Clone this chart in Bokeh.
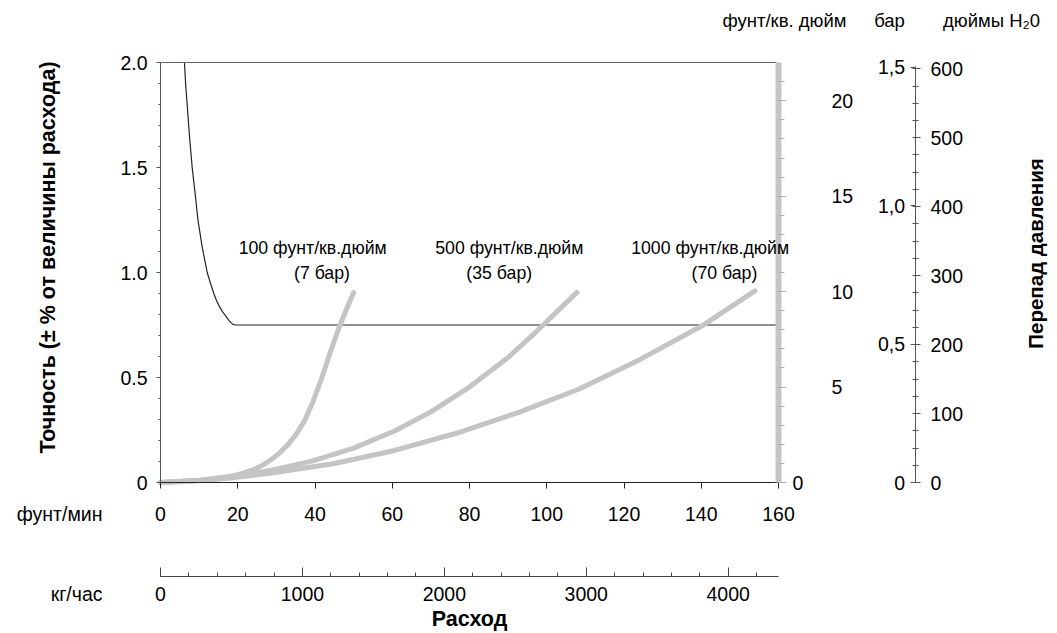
import numpy as np
from bokeh.plotting import figure
from bokeh.models import Range1d, LinearAxis, FixedTicker, Label
from bokeh.embed import file_html
from bokeh.resources import INLINE

# ---------------- data ----------------
flow_ticks = [0, 20, 40, 60, 80, 100, 120, 140, 160]          # lb/min
kg_ticks = [0, 1000, 2000, 3000, 4000]                          # kg/h
kg_minor = [0, 200, 400, 600, 800, 1000, 1200, 1400, 1600, 1800, 2000, 2200,
            2400, 2600, 2800, 3000, 3200, 3400, 3600, 3800, 4000, 4200]
acc_ticks = [0, 0.5, 1.0, 1.5, 2.0]
acc_labels = ["0", "0.5", "1.0", "1.5", "2.0"]
acc_minor = [0, 0.1, 0.2, 0.3, 0.4, 0.5, 0.6, 0.7, 0.8, 0.9, 1.0, 1.1, 1.2, 1.3,
             1.4, 1.5, 1.6, 1.7, 1.8, 1.9, 2.0]
psi_ticks = [0, 5, 10, 15, 20]
psi_labels = ["", "5", "10", "15", "20"]
psi_minor = list(range(0, 22))
h2o_ticks = [0, 100, 200, 300, 400, 500, 600]
h2o_minor = list(range(0, 625, 25))
bar_ticks = [0, 0.5, 1.0, 1.5]
bar_labels = ["0", "0,5", "1,0", "1,5"]

# accuracy curve (% of flow) vs flow (lb/min)
acc_x = [6.2, 6.5, 6.9, 7.5, 8.2, 9.0, 9.7, 10.8, 12.1, 13.0, 13.8, 14.5, 15.2,
         16.0, 16.6, 17.2, 17.8, 18.3, 18.7, 19.2, 160]
acc_y = [2.0, 1.9, 1.8, 1.65, 1.5, 1.37, 1.25, 1.12, 1.0, 0.945, 0.9, 0.867, 0.84,
         0.815, 0.8, 0.785, 0.77, 0.76, 0.754, 0.75, 0.75]

# pressure drop curves (psi) vs flow (lb/min)
p100_x = [0, 5, 10, 14, 17, 19.8, 22, 24.6, 26.8, 28.8, 31, 33.1, 35.2, 37.3,
          39.5, 41.8, 44, 46.3, 48.2, 50.0]
p100_y = [0.0, 0.04, 0.10, 0.17, 0.27, 0.40, 0.53, 0.72, 0.95, 1.22, 1.58, 2.01,
          2.55, 3.23, 4.25, 5.50, 6.85, 8.15, 9.10, 9.95]
p500_x = [0, 10, 19.8, 28.8, 39.4, 50.0, 60.6, 70, 80, 90, 97.8, 107.8]
p500_y = [0.0, 0.12, 0.35, 0.64, 1.13, 1.80, 2.70, 3.70, 5.00, 6.55, 8.00, 9.96]
p1000_x = [0, 10, 18.2, 28.8, 44.7, 60.6, 76.6, 92.4, 108.4, 124.2, 140.2, 153.9]
p1000_y = [0.0, 0.10, 0.23, 0.50, 0.98, 1.68, 2.58, 3.65, 4.90, 6.45, 8.21, 10.04]

curve_labels = [("100 фунт/кв.дюйм", 39.4, 1.115), ("(7 бар)", 41.8, 1.0),
                ("500 фунт/кв.дюйм", 90.3, 1.115), ("(35 бар)", 87.7, 1.0),
                ("1000 фунт/кв.дюйм", 142.3, 1.115), ("(70 бар)", 146.0, 1.0)]

# unit conversions
H2O_PER_PSI = 27.68
H2O_PER_BAR = 401.46
H2O_TOP = 609.1                 # inH2O at top of the plot box (accuracy 2.0)
KG_MAX = 160 * 0.45359 * 60     # kg/h at 160 lb/min

FONT = "Liberation Sans"
TICK_FS = "19.5px"
TXT_FS = "17.7px"
UNIT_FS = "18.5px"
TITLE_FS = "21.5px"
TITLE_R_FS = "20.5px"

# ---------------- page geometry (pixels) ----------------
W, H = 1052, 633
X0, X1 = 160, 778        # plot box left / right
Y0, Y1 = 482, 62         # plot box bottom / top
pxx = (X1 - X0) / 160.0  # px per lb/min
pxa = (Y0 - Y1) / 2.0    # px per accuracy unit


def xr(px):
    return (px - X0) / pxx


def yr(py):
    return (Y0 - py) / pxa


def vrange(scale_px):
    return Range1d(-(H - Y0) / scale_px, Y0 / scale_px)


p = figure(width=W, height=H, x_range=Range1d(xr(0), xr(W)), y_range=Range1d(yr(H), yr(0)),
           x_axis_location=None, y_axis_location=None, toolbar_location=None,
           output_backend="svg", min_border=0)
p.min_border_left = p.min_border_right = p.min_border_top = p.min_border_bottom = 0
p.outline_line_color = None
p.background_fill_color = "white"
p.border_fill_color = "white"
p.xgrid.grid_line_color = None
p.ygrid.grid_line_color = None

px_h2o = (Y0 - Y1) / H2O_TOP
p.extra_y_ranges = {
    "psi": vrange(px_h2o * H2O_PER_PSI),
    "h2o": vrange(px_h2o),
    "bar": vrange(px_h2o * H2O_PER_BAR),
}
px_kg = (X1 - X0) / KG_MAX
p.extra_x_ranges = {"kg": Range1d(-X0 / px_kg, (W - X0) / px_kg)}


def style_axis(ax):
    ax.major_label_text_font = FONT
    ax.major_label_text_font_size = TICK_FS
    ax.major_label_text_color = "black"


# left accuracy axis
yax = LinearAxis(ticker=FixedTicker(ticks=acc_ticks, minor_ticks=acc_minor),
                 bounds=(0, 2.0), fixed_location=0)
yax.major_label_overrides = {t: l for t, l in zip(acc_ticks, acc_labels)}
style_axis(yax)
yax.axis_line_color = "#555555"
yax.major_tick_line_color = "#555555"
yax.minor_tick_line_color = "#555555"
yax.major_tick_out = 4
yax.major_tick_in = 0
yax.minor_tick_out = 2
yax.minor_tick_in = 0
yax.major_label_standoff = 9
p.add_layout(yax, "left")

# bottom lb/min axis
xax = LinearAxis(ticker=FixedTicker(ticks=flow_ticks, minor_ticks=[]),
                 bounds=(0, 160), fixed_location=0)
style_axis(xax)
xax.axis_line_color = "#222222"
xax.major_tick_line_color = "#222222"
xax.major_tick_out = 6
xax.major_tick_in = 0
xax.major_label_standoff = 18
p.add_layout(xax, "below")

# top border line of the plot box
tax = LinearAxis(ticker=FixedTicker(ticks=[], minor_ticks=[]), bounds=(0, 159.4),
                 fixed_location=2.0)
tax.axis_line_color = "#666666"
tax.major_label_text_font_size = "0px"
tax.major_tick_out = 0
tax.minor_tick_out = 0
p.add_layout(tax, "above")

# psi axis (thick gray)
pax = LinearAxis(y_range_name="psi", ticker=FixedTicker(ticks=psi_ticks, minor_ticks=psi_minor),
                 bounds=(0, H2O_TOP / H2O_PER_PSI), fixed_location=160)
pax.major_label_overrides = {t: l for t, l in zip(psi_ticks, psi_labels)}
style_axis(pax)
pax.axis_line_color = "#c4c4c4"
pax.axis_line_width = 6
pax.major_tick_line_color = "#b0b0b0"
pax.minor_tick_line_color = "#b0b0b0"
pax.major_tick_out = 8
pax.major_tick_in = 0
pax.minor_tick_out = 6
pax.minor_tick_in = 0
pax.major_label_standoff = 45
p.add_layout(pax, "right")

# bar axis (labels left of the H2O line)
bax = LinearAxis(y_range_name="bar", ticker=FixedTicker(ticks=bar_ticks, minor_ticks=[]),
                 bounds=(0, 1.5), fixed_location=xr(914.5))
bax.major_label_overrides = {t: l for t, l in zip(bar_ticks, bar_labels)}
style_axis(bax)
bax.axis_line_color = None
bax.major_tick_line_color = "#555555"
bax.major_tick_out = 5
bax.major_tick_in = 0
bax.major_label_standoff = 5
p.add_layout(bax, "left")

# inches H2O axis
hax = LinearAxis(y_range_name="h2o", ticker=FixedTicker(ticks=h2o_ticks, minor_ticks=h2o_minor),
                 bounds=(0, 604), fixed_location=xr(915))
style_axis(hax)
hax.axis_line_color = "#555555"
hax.major_tick_line_color = "#555555"
hax.minor_tick_line_color = "#555555"
hax.major_tick_out = 5
hax.major_tick_in = 0
hax.minor_tick_out = 3
hax.minor_tick_in = 3
hax.major_label_standoff = 10
p.add_layout(hax, "right")

# kg/h axis
kax = LinearAxis(x_range_name="kg", ticker=FixedTicker(ticks=kg_ticks, minor_ticks=kg_minor),
                 bounds=(0, KG_MAX), fixed_location=yr(575.5))
style_axis(kax)
kax.axis_line_color = "#444444"
kax.major_tick_line_color = "#444444"
kax.minor_tick_line_color = "#444444"
kax.major_tick_out = 0
kax.major_tick_in = 9
kax.minor_tick_out = 0
kax.minor_tick_in = 4
kax.major_label_standoff = 11
p.add_layout(kax, "below")

# curves
p.line(acc_x, acc_y, line_color="#222222", line_width=1.2)
for xs, ys in [(p100_x, p100_y), (p500_x, p500_y), (p1000_x, p1000_y)]:
    p.line(xs, ys, y_range_name="psi", line_color="#c4c4c4", line_width=5,
           line_join="round", line_cap="round")


def label(x, y, text, size=TXT_FS, align="center", bold=False, angle=0.0, yname="default"):
    p.add_layout(Label(x=x, y=y, y_range_name=yname, text=text, text_font=FONT,
                       text_font_size=size, text_align=align, text_baseline="middle",
                       text_font_style="bold" if bold else "normal", angle=angle,
                       text_color="black"))


for txt, x, y in curve_labels:
    label(x, y, txt)

label(xr(792), 0, "0", size=TICK_FS, align="left", yname="psi")
label(xr(102), yr(513), "фунт/мин", size=TICK_FS, align="right")
label(xr(102), yr(593), "кг/час", size=TICK_FS, align="right")
label(xr(469), yr(618), "Расход", size=TITLE_FS, bold=True)
label(xr(47), yr(257), "Точность (± % от величины расхода)", size=TITLE_FS, bold=True,
      angle=np.pi / 2)
label(xr(1035), yr(253), "Перепад давления", size=TITLE_R_FS, bold=True, angle=np.pi / 2)
label(xr(784), yr(20), "фунт/кв. дюйм", size=UNIT_FS)
label(xr(889), yr(20), "бар", size=UNIT_FS)
label(xr(991), yr(20), "дюймы H₂0", size=UNIT_FS)

open("out.html", "w").write(file_html(p, INLINE))
